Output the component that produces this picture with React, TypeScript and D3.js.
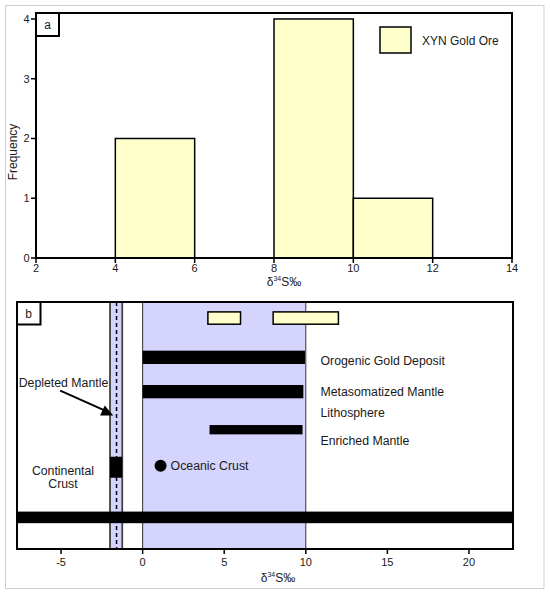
import React from "react";
import * as d3 from "d3";

// ---------- Panel a: histogram ----------
const binStarts = [4, 8, 10];
const binEnds = [6, 10, 12];
const binCounts = [2, 4, 1];
const xTicksA = [2, 4, 6, 8, 10, 12, 14];
const yTicksA = [0, 1, 2, 3, 4];
const legendLabel = "XYN Gold Ore";

// ---------- Panel b: ranges ----------
const rangeNames = ["XYN Gold Ore 1", "XYN Gold Ore 2", "Orogenic Gold Deposit", "Metasomatized Mantle Lithosphere", "Enriched Mantle", "Sedimentary"];
const rangeLo = [4, 8, 0, 0, 4.1, -7.7];
const rangeHi = [6, 12, 9.95, 9.85, 9.8, 22.7];
const rangeLevel = [9.35, 9.35, 7.76, 6.37, 4.83, 1.28];
const rangeKind = ["ore", "ore", "black", "black", "thin", "black"];
const xTicksB = [-5, 0, 5, 10, 15, 20];
const mantleZone = [0, 10];
const depletedBand = [-2, -1.25];
const depletedCenter = -1.6;
const continentalLevel = 3.31;
const oceanicX = 1.1;
const oceanicLevel = 3.37;

const FONT = "'Liberation Sans', Arial, sans-serif";
const BLUE = "#D4D4FC";
const YELLOW = "#FFFFCC";
const TXT = "#1a1a1a";

function DeltaLabel({ x, y }: { x: number; y: number }) {
  return (
    <text x={x} y={y} fontFamily={FONT} fontSize={12} fill={TXT} textAnchor="middle">
      δ<tspan fontSize={7} dy={-5}>34</tspan>
      <tspan dy={5}>S‰</tspan>
    </text>
  );
}

export default function App() {
  // panel a
  const xA = d3.scaleLinear().domain([2, 14]).range([36, 512]);
  const yA = d3.scaleLinear().domain([0, 4.1]).range([258, 13]);
  // panel b
  const xB = d3.scaleLinear().domain([-7.7, 22.7]).range([17, 513]);
  const yB = d3.scaleLinear().domain([0, 10]).range([549, 302]);

  const barH: Record<string, number> = { ore: 12.3, black: 13.3, thin: 9.3 };
  const bottomH = 11.6;

  const labelX = xB(10.9);

  return (
    <svg width={550} height={595} style={{ position: "absolute", left: 0, top: 0 }}>
      <rect x={0} y={0} width={550} height={595} fill="#fff" />
      <rect x={5.5} y={5.5} width={538.5} height={583} fill="none" stroke="#cfcfcf" strokeWidth={1} />

      {/* ===== Panel a ===== */}
      {binStarts.map((s, i) => (
        <rect
          key={i}
          x={xA(s)}
          y={yA(binCounts[i])}
          width={xA(binEnds[i]) - xA(s)}
          height={yA(0) - yA(binCounts[i])}
          fill={YELLOW}
          stroke="#000"
          strokeWidth={1.5}
        />
      ))}
      <rect x={36} y={13} width={476} height={245} fill="none" stroke="#000" strokeWidth={2} />
      {yTicksA.map((t) => (
        <g key={t}>
          <line x1={31} x2={36} y1={yA(t)} y2={yA(t)} stroke="#000" strokeWidth={1.5} />
          <text x={29.5} y={yA(t) + 4} textAnchor="end" fontFamily={FONT} fontSize={11} fill={TXT}>{t}</text>
        </g>
      ))}
      {xTicksA.map((t) => (
        <g key={t}>
          <line x1={xA(t)} x2={xA(t)} y1={258} y2={263} stroke="#000" strokeWidth={1.5} />
          <text x={xA(t)} y={272} textAnchor="middle" fontFamily={FONT} fontSize={11} fill={TXT}>{t}</text>
        </g>
      ))}
      <text transform="translate(16.5,152) rotate(-90)" textAnchor="middle" fontFamily={FONT} fontSize={12} fill={TXT}>Frequency</text>
      <DeltaLabel x={284} y={285.5} />
      <rect x={36} y={13} width={23} height={23} fill="#fff" stroke="#000" strokeWidth={2} />
      <text x={47.5} y={29} textAnchor="middle" fontFamily={FONT} fontSize={12} fill={TXT}>a</text>
      <rect x={380} y={27} width={31} height={26} fill={YELLOW} stroke="#000" strokeWidth={1.5} />
      <text x={422} y={44.5} fontFamily={FONT} fontSize={12} fill={TXT}>{legendLabel}</text>

      {/* ===== Panel b ===== */}
      <rect x={17} y={302} width={496} height={247} fill="#fff" />
      <rect
        x={xB(mantleZone[0])}
        y={302}
        width={xB(mantleZone[1]) - xB(mantleZone[0])}
        height={247}
        fill={BLUE}
        stroke="#333"
        strokeWidth={1}
      />
      <rect
        x={xB(depletedBand[0])}
        y={302}
        width={xB(depletedBand[1]) - xB(depletedBand[0])}
        height={247}
        fill={BLUE}
        stroke="#444"
        strokeWidth={1.8}
      />
      <line x1={xB(depletedCenter)} x2={xB(depletedCenter)} y1={302} y2={549} stroke="#000" strokeWidth={1.5} strokeDasharray="4,3" />

      {rangeNames.map((n, i) => {
        const h = rangeKind[i] === "black" && i === rangeNames.length - 1 ? bottomH : barH[rangeKind[i]];
        return (
          <rect
            key={n}
            x={xB(rangeLo[i])}
            y={yB(rangeLevel[i]) - h / 2}
            width={xB(rangeHi[i]) - xB(rangeLo[i])}
            height={h}
            fill={rangeKind[i] === "ore" ? YELLOW : "#000"}
            stroke="#000"
            strokeWidth={rangeKind[i] === "ore" ? 1.5 : 0}
          />
        );
      })}

      <rect
        x={xB(depletedBand[0])}
        y={yB(continentalLevel) - 10.5}
        width={xB(depletedBand[1]) - xB(depletedBand[0])}
        height={21}
        fill="#000"
      />
      <circle cx={xB(oceanicX)} cy={yB(oceanicLevel)} r={6} fill="#000" />
      <text x={xB(oceanicX) + 10} y={yB(oceanicLevel) + 4.5} fontFamily={FONT} fontSize={12.3} fill={TXT}>Oceanic Crust</text>

      <text x={labelX} y={365} fontFamily={FONT} fontSize={12.3} fill={TXT}>Orogenic Gold Deposit</text>
      <text x={labelX} y={396} fontFamily={FONT} fontSize={12.3} fill={TXT}>Metasomatized Mantle</text>
      <text x={labelX} y={417} fontFamily={FONT} fontSize={12.3} fill={TXT}>Lithosphere</text>
      <text x={labelX} y={445} fontFamily={FONT} fontSize={12.3} fill={TXT}>Enriched Mantle</text>

      <text x={63.5} y={386.5} textAnchor="middle" fontFamily={FONT} fontSize={12.3} fill={TXT}>Depleted Mantle</text>
      <line x1={xB(-5.05)} y1={yB(6.41)} x2={xB(-2.3)} y2={yB(5.6)} stroke="#000" strokeWidth={2} />
      <path
        d={(() => {
          const tx = xB(-1.8), ty = yB(5.4);
          const sx = xB(-5.05), sy = yB(6.41);
          const ang = Math.atan2(ty - sy, tx - sx);
          const L = 12, W = 5.5;
          const bx = tx - L * Math.cos(ang), by = ty - L * Math.sin(ang);
          const px = -Math.sin(ang) * W, py = Math.cos(ang) * W;
          return `M${tx},${ty}L${bx + px},${by + py}L${bx - px},${by - py}Z`;
        })()}
        fill="#000"
      />

      <text x={63} y={475} textAnchor="middle" fontFamily={FONT} fontSize={12.3} fill={TXT}>Continental</text>
      <text x={63} y={487.5} textAnchor="middle" fontFamily={FONT} fontSize={12.3} fill={TXT}>Crust</text>

      <rect x={17} y={302} width={496} height={247} fill="none" stroke="#000" strokeWidth={2} />
      {xTicksB.map((t) => (
        <g key={t}>
          <line x1={xB(t)} x2={xB(t)} y1={549} y2={554} stroke="#000" strokeWidth={1.5} />
          <text x={xB(t)} y={565.5} textAnchor="middle" fontFamily={FONT} fontSize={11} fill={TXT}>{t === -5 ? "-5" : t}</text>
        </g>
      ))}
      <DeltaLabel x={278} y={582} />
      <rect x={17} y={302} width={23.5} height={22.5} fill="#fff" stroke="#000" strokeWidth={2} />
      <text x={28.7} y={317.5} textAnchor="middle" fontFamily={FONT} fontSize={12} fill={TXT}>b</text>
    </svg>
  );
}
